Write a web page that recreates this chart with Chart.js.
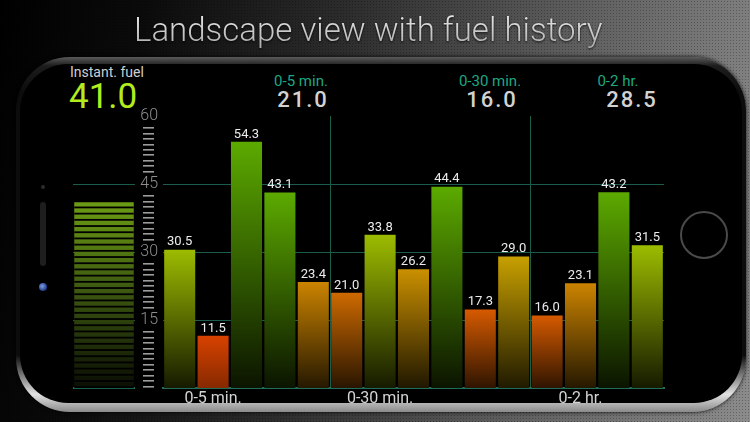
<!DOCTYPE html>
<html>
<head>
<meta charset="utf-8">
<script src="https://cdn.jsdelivr.net/npm/chart.js@4.4.1/dist/chart.umd.min.js"></script>
<style>
  html, body { margin: 0; padding: 0; }
  body {
    width: 750px; height: 422px; overflow: hidden; position: relative;
    font-family: Roboto, "DejaVu Sans", sans-serif;
    background-color: #222;
    background-image:
      radial-gradient(rgba(0,0,0,0.28) 0.7px, transparent 0.9px),
      linear-gradient(100deg, #000 0%, #0b0b0b 18%, #2c2c2c 42%, #5a5a5a 68%, #8c8c8c 100%);
    background-size: 3px 3px, 100% 100%;
  }
  #title {
    position: absolute; left: 134px; top: 9px; white-space: nowrap;
    font-size: 33px; font-weight: 300; line-height: 42px;
    background: linear-gradient(#f4f4f4, #a4a4a4);
    -webkit-background-clip: text; background-clip: text; color: transparent;
    filter: drop-shadow(0 1px 1px rgba(0,0,0,0.8));
  }
  .phone {
    position: absolute; left: 16px; top: 57px; width: 730px; height: 355px; border-radius: 54px;
    background: linear-gradient(180deg, #5a5a5a 0%, #1c1c1c 2.5%, #0c0c0c 10%, #0c0c0c 84%, #e2e2e2 95%, #8a8a8a 100%);
    box-shadow: 0 0 4px rgba(0,0,0,0.9);
  }
  .screen {
    position: absolute; left: 20px; top: 64px; width: 722px; height: 339px; border-radius: 48px;
    background: #000;
  }
  .home {
    position: absolute; left: 680px; top: 211px; width: 44px; height: 44px;
    border: 2px solid #4a4a4a; border-radius: 50%;
  }
  .side { position: absolute; left: 40px; top: 202px; width: 6px; height: 64px; border-radius: 3px; background: #1e1e1e; }
  .dot { position: absolute; left: 41px; top: 185px; width: 4px; height: 4px; border-radius: 50%; background: #2c2c2c; }
  .cam {
    position: absolute; left: 39px; top: 283px; width: 8px; height: 8px; border-radius: 50%;
    background: radial-gradient(circle at 40% 40%, #7f9fe8, #1f3a86 70%);
  }
  #instLabel { position: absolute; left: 70px; top: 64px; font-size: 14px; color: #cfcfcf; }
  #instValue { position: absolute; left: 69px; top: 76px; font-size: 35px; font-weight: 400; color: #b2ec1e; }
  .sumLabel { position: absolute; width: 120px; text-align: center; font-size: 15px; color: #1ea882; }
  .sumValue { position: absolute; width: 120px; text-align: center; font-size: 22px; font-weight: 500;
    letter-spacing: 2px; color: #d2d2d2; }
  #gaugeWrap { position: absolute; left: 73px; top: 100px; width: 62px; height: 310px; }
  #mainWrap { position: absolute; left: 130px; top: 100px; width: 540px; height: 310px; }
</style>
</head>
<body>
<div id="title">Landscape view with fuel history</div>
<div class="phone"></div>
<div class="screen"></div>
<div class="home"></div>
<div class="side"></div>
<div class="dot"></div>
<div class="cam"></div>

<div id="instLabel">Instant. fuel</div>
<div id="instValue"></div>
<div class="sumLabel" id="sl0" style="left:241px; top:72px;"></div>
<div class="sumValue" id="sv0" style="left:243px; top:87px;"></div>
<div class="sumLabel" id="sl1" style="left:430px; top:72px;"></div>
<div class="sumValue" id="sv1" style="left:432px; top:87px;"></div>
<div class="sumLabel" id="sl2" style="left:558px; top:72px;"></div>
<div class="sumValue" id="sv2" style="left:572px; top:87px;"></div>

<div id="gaugeWrap"><canvas id="gauge"></canvas></div>
<div id="mainWrap"><canvas id="main"></canvas></div>

<script>
const groupNames = ["0-5 min.", "0-30 min.", "0-2 hr."];
const groupAverages = [21.0, 16.0, 28.5];
const instantFuel = 41.0;
const barValues = [30.5, 11.5, 54.3, 43.1, 23.4, 21.0, 33.8, 26.2, 44.4, 17.3, 29.0, 16.0, 23.1, 43.2, 31.5];
const xTickLabels = ["", "0-5 min.", "", "", "", "", "0-30 min.", "", "", "", "", "", "0-2 hr.", "", ""];
const groupStarts = [5, 11]; // bar index where a new time window begins
const yTickValues = [15, 30, 45, 60];

const TEAL = "#1b5c4c";

document.getElementById("instValue").textContent = instantFuel.toFixed(1);
groupNames.forEach((name, i) => {
  document.getElementById("sl" + i).textContent = name;
  document.getElementById("sv" + i).textContent = groupAverages[i].toFixed(1);
});

// bar colour goes from red (low) to green (high)
function barColor(v) {
  if (v >= 40) return [92, 170, 0, 0.12];
  if (v >= 30) return [156, 188, 0, 0.14];
  if (v >= 28) return [200, 160, 0, 0.16];
  if (v >= 25) return [202, 144, 0, 0.16];
  if (v >= 22) return [204, 132, 0, 0.18];
  if (v >= 19) return [206, 106, 0, 0.2];
  if (v >= 14) return [214, 90, 0, 0.22];
  return [216, 66, 0, 0.62];
}

function rgb(c, k) {
  return `rgb(${Math.round(c[0] * k)},${Math.round(c[1] * k)},${Math.round(c[2] * k)})`;
}

function barGradient(ctx) {
  const chart = ctx.chart;
  if (!chart.chartArea || ctx.type !== "data") return "rgba(0,0,0,0)";
  const y = chart.scales.y;
  const top = y.getPixelForValue(ctx.raw);
  const base = y.getPixelForValue(0);
  const c = barColor(ctx.raw);
  const g = chart.ctx.createLinearGradient(0, top, 0, base);
  g.addColorStop(0, rgb(c, 1));
  g.addColorStop(1, rgb(c, c[3]));
  return g;
}

const valueLabels = {
  id: "valueLabels",
  afterDatasetsDraw(chart) {
    const c = chart.ctx;
    c.save();
    c.font = "400 13px Roboto";
    c.fillStyle = "#ececec";
    c.textAlign = "center";
    c.textBaseline = "bottom";
    chart.getDatasetMeta(0).data.forEach((bar, i) => {
      c.fillText(barValues[i].toFixed(1), bar.x, bar.y - 1);
    });
    c.restore();
  },
};

// small dashes between the y tick labels
const minorTicks = {
  id: "minorTicks",
  afterDraw(chart) {
    const c = chart.ctx;
    const y = chart.scales.y;
    const x0 = chart.chartArea.left - 20;
    c.save();
    c.fillStyle = "#9c9c9c";
    [0, 15, 30, 45].forEach((a) => {
      const first = a === 0 ? 0.3 : 2.7;
      for (let v = a + first; v <= a + 12.31; v += 1.2) {
        const py = Math.round(y.getPixelForValue(v));
        c.fillRect(x0, py - 1, 11, 1.6);
      }
    });
    c.restore();
  },
};

new Chart(document.getElementById("main"), {
  type: "bar",
  data: {
    labels: xTickLabels,
    datasets: [{
      data: barValues,
      backgroundColor: barGradient,
      borderWidth: 0,
      barPercentage: 1,
      categoryPercentage: 0.93,
    }],
  },
  options: {
    responsive: true,
    maintainAspectRatio: false,
    animation: false,
    layout: { padding: { top: 16, right: 6, left: 0, bottom: 0 } },
    plugins: { legend: { display: false }, tooltip: { enabled: false } },
    scales: {
      x: {
        grid: {
          color: (ctx) => (groupStarts.includes(ctx.index) ? TEAL : "rgba(0,0,0,0)"),
          drawTicks: false,
        },
        border: { color: "#1e6e5a", width: 2 },
        ticks: {
          color: "#d4d4d4",
          font: { family: "Roboto", size: 16 },
          padding: 1,
          autoSkip: false,
          maxRotation: 0,
        },
        afterFit(s) { s.height = 22; },
      },
      y: {
        min: 0,
        max: 60,
        afterBuildTicks(s) { s.ticks = yTickValues.map((v) => ({ value: v })); },
        grid: {
          color: (ctx) => (ctx.tick && ctx.tick.value < 60 ? TEAL : "rgba(0,0,0,0)"),
          drawTicks: false,
        },
        border: { display: false },
        ticks: {
          color: "#8e8e8e",
          font: { family: "Roboto", size: 16, weight: 300 },
          padding: 5,
        },
        afterFit(s) { s.width = 33; },
      },
    },
  },
  plugins: [valueLabels, minorTicks],
});

// instant fuel gauge, drawn on the same 0-60 scale
const stripes = {
  id: "stripes",
  afterDatasetsDraw(chart) {
    const bar = chart.getDatasetMeta(0).data[0];
    const c = chart.ctx;
    const left = bar.x - bar.width / 2;
    c.save();
    c.fillStyle = "#000";
    for (let py = bar.y + 4.4; py < bar.base; py += 6.2) c.fillRect(left, py, bar.width, 1.8);
    c.restore();
  },
};

new Chart(document.getElementById("gauge"), {
  type: "bar",
  data: {
    labels: ["Instant. fuel"],
    datasets: [{
      data: [instantFuel],
      backgroundColor: (ctx) => {
        const chart = ctx.chart;
        if (!chart.chartArea || ctx.type !== "data") return "rgba(0,0,0,0)";
        const y = chart.scales.y;
        const g = chart.ctx.createLinearGradient(0, y.getPixelForValue(ctx.raw), 0, y.getPixelForValue(0));
        g.addColorStop(0, "#6c9c14");
        g.addColorStop(0.5, "#3a5410");
        g.addColorStop(1, "#0a0d04");
        return g;
      },
      borderWidth: 0,
      barPercentage: 0.96,
      categoryPercentage: 1,
    }],
  },
  options: {
    responsive: true,
    maintainAspectRatio: false,
    animation: false,
    layout: { padding: { top: 16, bottom: 22, left: 0, right: 0 } },
    plugins: { legend: { display: false }, tooltip: { enabled: false } },
    scales: {
      x: { display: false },
      y: {
        min: 0,
        max: 60,
        afterBuildTicks(s) { s.ticks = [0].concat(yTickValues).map((v) => ({ value: v })); },
        grid: {
          color: (ctx) => (ctx.tick && ctx.tick.value < 60 ? (ctx.tick.value === 0 ? "#1e6e5a" : TEAL) : "rgba(0,0,0,0)"),
          lineWidth: (ctx) => (ctx.tick && ctx.tick.value === 0 ? 2 : 1),
          drawTicks: false,
        },
        border: { display: false },
        ticks: { display: false },
        afterFit(s) { s.width = 0; },
      },
    },
  },
  plugins: [stripes],
});
</script>
</body>
</html>
